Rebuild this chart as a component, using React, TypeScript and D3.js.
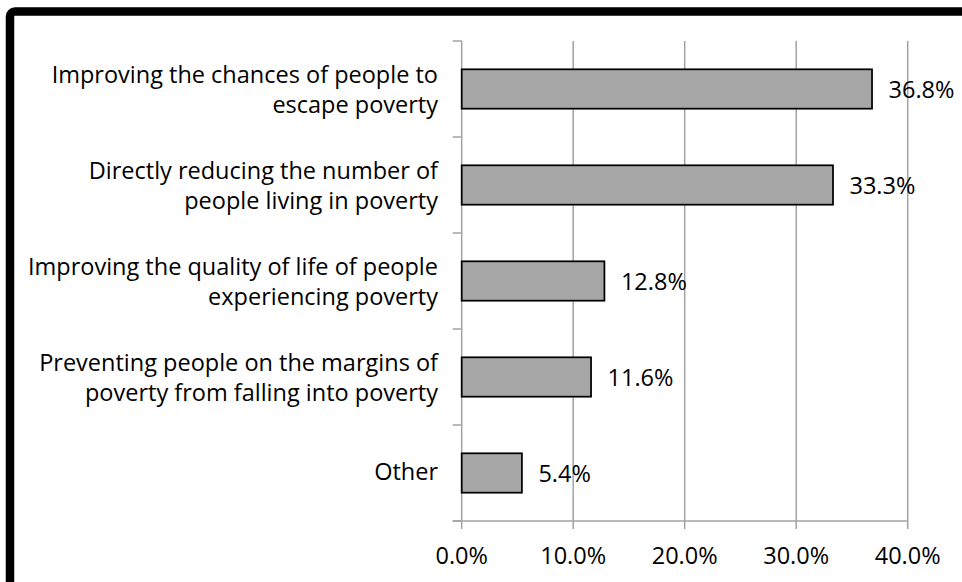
import React from "react";
import * as d3 from "d3";

const categories: string[] = [
  "Improving the chances of people to\nescape poverty",
  "Directly reducing the number of\npeople living in poverty",
  "Improving the quality of life of people\nexperiencing poverty",
  "Preventing people on the margins of\npoverty from falling into poverty",
  "Other",
];
const values: number[] = [36.8, 33.3, 12.8, 11.6, 5.4];
const xTicks: number[] = [0, 10, 20, 30, 40];

const W = 962;
const H = 582;
const FONT = "'Open Sans', 'Noto Sans', sans-serif";
const FS = 23.5;
const LINE_H = 30.5;
const GRID = "#a3a3a3";

export default function App() {
  const x = d3.scaleLinear().domain([0, 40]).range([461.7, 907.7]);
  const y = d3
    .scaleBand<string>()
    .domain(categories)
    .range([41, 521])
    .paddingInner(0.59)
    .paddingOuter(0.295);
  const step = y.step();
  const top = 41;
  const bottom = 521;
  const fmt = d3.format(".1f");

  return (
    <svg
      width={W}
      height={H}
      style={{ position: "absolute", left: 0, top: 0, background: "#fff" }}
      fontFamily={FONT}
    >
      <rect x={0} y={0} width={W} height={H} fill="#fff" />
      {/* gridlines */}
      {xTicks.map((t) => (
        <line
          key={"g" + t}
          x1={x(t)}
          x2={x(t)}
          y1={top}
          y2={bottom + 8}
          stroke={GRID}
          strokeWidth={1.5}
        />
      ))}
      {/* bottom axis line */}
      <line x1={x(0) - 9} x2={x(40)} y1={bottom} y2={bottom} stroke={GRID} strokeWidth={1.5} />
      {/* y-axis ticks at band boundaries */}
      {d3.range(categories.length + 1).map((i) => (
        <line
          key={"yt" + i}
          x1={x(0) - 9}
          x2={x(0)}
          y1={top + i * step}
          y2={top + i * step}
          stroke={GRID}
          strokeWidth={1.5}
        />
      ))}
      {/* bars */}
      {categories.map((c, i) => (
        <rect
          key={"b" + i}
          x={x(0)}
          y={y(c)!}
          width={x(values[i]) - x(0)}
          height={y.bandwidth()}
          fill="#a6a6a6"
          stroke="#000"
          strokeWidth={1.75}
        />
      ))}
      {/* value labels */}
      {categories.map((c, i) => (
        <text
          key={"v" + i}
          x={x(values[i]) + 16.5}
          y={y(c)! + y.bandwidth() / 2 + 9}
          fontSize={FS}
          fill="#000"
        >
          {fmt(values[i]) + "%"}
        </text>
      ))}
      {/* category labels */}
      {categories.map((c, i) => {
        const lines = c.split("\n");
        const n = lines.length;
        const center = y(c)! + y.bandwidth() / 2;
        return (
          <text key={"c" + i} fontSize={FS} fill="#000" textAnchor="end">
            {lines.map((ln, j) => (
              <tspan
                key={j}
                x={438}
                y={center + 7 + (j - (n - 1) / 2) * LINE_H + (n - 1) * 2}
              >
                {ln}
              </tspan>
            ))}
          </text>
        );
      })}
      {/* x tick labels */}
      {xTicks.map((t) => (
        <text
          key={"xl" + t}
          x={x(t)}
          y={564}
          fontSize={FS}
          textAnchor="middle"
          fill="#000"
        >
          {fmt(t) + "%"}
        </text>
      ))}
      {/* outer border */}
      <rect
        x={10}
        y={11.5}
        width={1000}
        height={700}
        rx={5}
        fill="none"
        stroke="#000"
        strokeWidth={8.5}
      />
    </svg>
  );
}
